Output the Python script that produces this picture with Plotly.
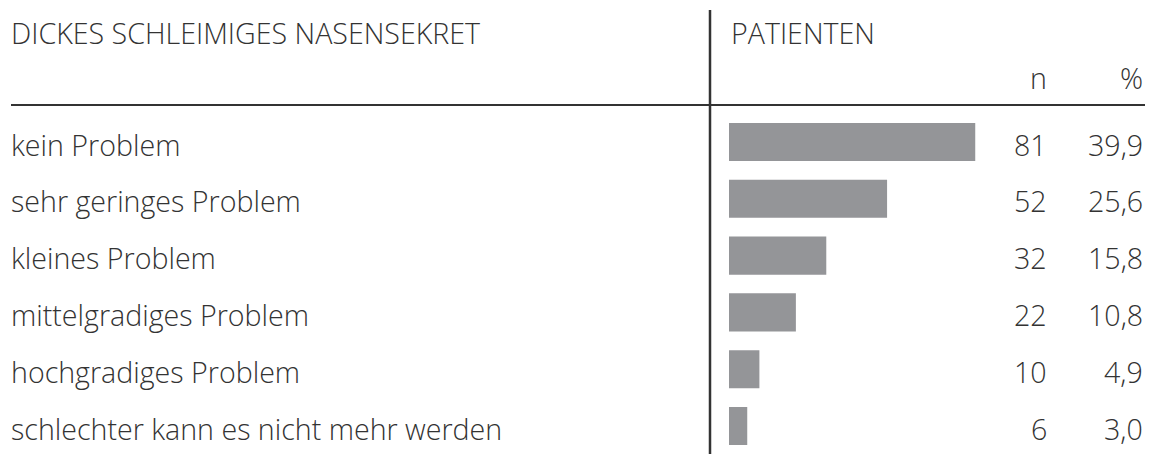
import plotly.graph_objects as go

# Table data
title_left = "DICKES SCHLEIMIGES NASENSEKRET"
title_right = "PATIENTEN"
col_headers = ["n", "%"]
categories = [
    "kein Problem",
    "sehr geringes Problem",
    "kleines Problem",
    "mittelgradiges Problem",
    "hochgradiges Problem",
    "schlechter kann es nicht mehr werden",
]
counts = [81, 52, 32, 22, 10, 6]
percents = [39.9, 25.6, 15.8, 10.8, 4.9, 3.0]

W, H = 1153, 454
TEXT = "#333333"
BAR = "#949598"
FONT = "Open Sans"
FS = 28.6


def px(x):
    return x / W


def py(y):
    return 1 - y / H


fig = go.Figure()
fig.add_trace(go.Bar(
    x=counts,
    y=categories,
    orientation="h",
    width=0.67,
    marker=dict(color=BAR, line=dict(width=0)),
    hoverinfo="skip",
))

ann = []
# header row
ann.append(dict(text=title_left, x=px(9), y=py(31), xanchor="left", yanchor="middle"))
ann.append(dict(text=title_right, x=px(729), y=py(31), xanchor="left", yanchor="middle"))
ann.append(dict(text=col_headers[0], x=px(1049), y=py(76), xanchor="right", yanchor="middle"))
ann.append(dict(text=col_headers[1], x=px(1145), y=py(76), xanchor="right", yanchor="middle"))

for cat, n, p in zip(categories, counts, percents):
    ann.append(dict(text=cat, x=px(9), y=cat, yref="y", xanchor="left", yanchor="middle"))
    ann.append(dict(text=str(n), x=px(1049), y=cat, yref="y", xanchor="right", yanchor="middle"))
    ann.append(dict(text=f"{p:.1f}".replace(".", ","), x=px(1145), y=cat, yref="y",
                    xanchor="right", yanchor="middle"))

for a in ann:
    a.setdefault("xref", "paper")
    a.setdefault("yref", "paper")
    a["showarrow"] = False
    a["font"] = dict(family=FONT, size=FS, color=TEXT, weight=300)
    a["yshift"] = -2

fig.update_layout(
    width=W,
    height=H,
    margin=dict(l=0, r=0, t=0, b=0),
    paper_bgcolor="white",
    plot_bgcolor="white",
    showlegend=False,
    annotations=ann,
    xaxis=dict(domain=[729 / W, 1], range=[0, (W - 729) / 3.04], visible=False, fixedrange=True),
    yaxis=dict(domain=[0, 1], range=[(H - 142) / 56.8, -142 / 56.8], visible=False,
               fixedrange=True, categoryorder="array", categoryarray=categories),
    shapes=[
        dict(type="line", xref="paper", yref="paper", x0=px(11), x1=px(1145), y0=py(105), y1=py(105),
             line=dict(color=TEXT, width=2)),
        dict(type="line", xref="paper", yref="paper", x0=px(710), x1=px(710), y0=py(10), y1=py(454),
             line=dict(color=TEXT, width=2.5)),
    ],
)

fig.write_html("out.html", config=dict(displayModeBar=False))
